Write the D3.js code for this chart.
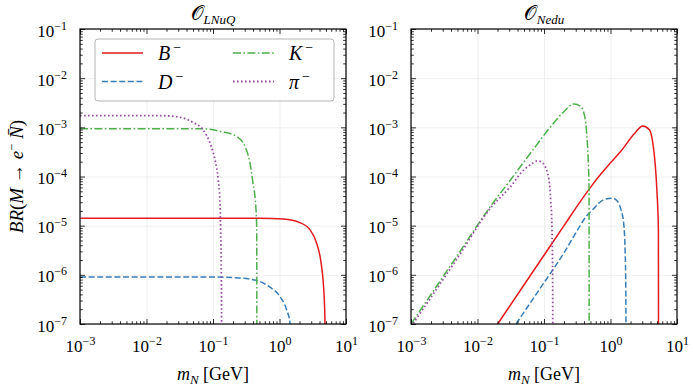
<!DOCTYPE html>
<html>
<head>
<meta charset="utf-8">
<script src="https://cdn.jsdelivr.net/npm/d3@7"></script>
<style>
body { margin: 0; background: #fff; }
</style>
</head>
<body>
<div id="plot"></div>
<script>
// tick values and labels
var xTicks = [1e-3, 1e-2, 1e-1, 1e0, 1e1];
var xTickExp = ["\u22123", "\u22122", "\u22121", "0", "1"];
var yTicks = [1e-7, 1e-6, 1e-5, 1e-4, 1e-3, 1e-2, 1e-1];
var yTickExp = ["\u22127", "\u22126", "\u22125", "\u22124", "\u22123", "\u22122", "\u22121"];

var mesons = ["B", "D", "K", "\u03c0"];

// O_LNuQ panel, [m_N (GeV), BR]
var lnuqB = [[1e-3,1.42e-5],[0.1,1.42e-5],[0.5,1.41e-5],[1.14,1.36e-5],[2.03,1.15e-5],[2.88,8.2e-6],
             [3.62,4.4e-6],[4.16,2.0e-6],[4.56,6.8e-7],[4.72,3.1e-7],[4.83,1e-7],[4.87,1e-9]];
var lnuqD = [[1e-3,9e-7],[0.1,9e-7],[0.2,8.8e-7],[0.36,8.2e-7],[0.51,7.3e-7],[0.72,5.6e-7],[1.02,3.6e-7],
             [1.28,1.95e-7],[1.44,1.05e-7],[1.55,3e-8]];
var lnuqK = [[1e-3,9.4e-4],[0.07,9.4e-4],[0.127,8.3e-4],[0.227,6.5e-4],[0.303,4.1e-4],[0.36,1.86e-4],
             [0.40,7.2e-5],[0.44,2.45e-5],[0.454,9.5e-6],[0.458,1e-9]];
var lnuqPi = [[1e-3,1.73e-3],[0.016,1.73e-3],[0.032,1.6e-3],[0.051,1.24e-3],[0.071,8.9e-4],[0.090,4.8e-4],
              [0.107,2.2e-4],[0.120,8.5e-5],[0.127,3.3e-5],[0.130,9.5e-6],[0.134,5e-7],[0.1355,1e-9]];

// O_Nedu panel
var neduB = [[0.0201,1e-7],[0.1,2.5e-6],[0.2,1.0e-5],[0.357,3.2e-5],[0.5,6.0e-5],[0.716,1.12e-4],
             [1.0,1.9e-4],[1.44,3.3e-4],[2.28,7.4e-4],[3.05,1.07e-3],[3.85,8.9e-4],[4.33,4.8e-4],[4.69,1.86e-4],
             [5.01,4.6e-5],[5.25,8.3e-6],[5.3,1e-9]];
var neduD = [[0.038,1e-7],[0.06,2.5e-7],[0.1,6.9e-7],[0.2,2.8e-6],[0.357,1.05e-5],[0.424,1.5e-5],[0.537,2.1e-5],
             [0.676,2.9e-5],[0.853,3.5e-5],[1.08,3.6e-5],[1.28,3.1e-5],[1.44,2.1e-5],[1.58,1.1e-5],
             [1.66,3e-6],[1.70,5e-7],[1.72,1e-9]];
var neduK = [[1e-3,1e-7],[0.002,4e-7],[0.005,2.5e-6],[0.0156,2.45e-5],[0.0313,8.5e-5],[0.0628,3.0e-4],
             [0.126,1.03e-3],[0.2,2.1e-3],[0.283,3.0e-3],[0.357,2.64e-3],[0.40,1.9e-3],[0.425,1.2e-3],
             [0.44,7e-4],[0.46,2.5e-4],[0.476,5.4e-5],[0.478,1e-9]];
var neduPi = [[1e-3,0.88e-7],[0.005,2.2e-6],[0.0156,2.26e-5],[0.0313,6.2e-5],[0.0497,1.36e-4],[0.065,1.8e-4],
              [0.079,2.07e-4],[0.09,2.0e-4],[0.1,1.74e-4],[0.119,8.5e-5],[0.126,3.3e-5],[0.132,8e-6],
              [0.135,1e-6],[0.136,1e-9]];

var colors = ["#e41a1c", "#377eb8", "#4daf4a", "#984ea3"];
var dashes = [null, "6,2.6", "8,2.4,1.6,2.4", "1.6,2.4"];
var serif = "Liberation Serif";

var W = 693, H = 390;
var plotTop = 29, plotBottom = 324, pw = 266;

// every span gets its own font settings
function span(t, str, size, italic) {
  var s = t.append("tspan").attr("font-family", serif).attr("font-size", size).text(str);
  if (italic) s.attr("font-style", "italic");
  return s;
}

var svg = d3.select("#plot").append("svg").attr("width", W).attr("height", H)
  .attr("font-family", serif);

svg.append("clipPath").attr("id", "clip")
   .append("rect").attr("x", 0).attr("y", 0).attr("width", pw).attr("height", plotBottom - plotTop);

var panels = [
  {left: 80, sub: "LNuQ", series: [lnuqB, lnuqD, lnuqK, lnuqPi], legend: true},
  {left: 411, sub: "Nedu", series: [neduB, neduD, neduK, neduPi], legend: false}
];

// minor ticks 2..9 in each decade
function minors(lo, hi) {
  var out = [];
  for (var e = lo; e < hi; e++)
    for (var k = 2; k <= 9; k++) out.push(k * Math.pow(10, e));
  return out;
}
var xMinor = minors(-3, 1);
var yMinor = minors(-7, -1);

// drop the axis' own empty labels and its sans-serif default
function bare(a) {
  a.select(".domain").remove();
  a.selectAll(".tick text").remove();
  a.attr("font-family", serif);
}

panels.forEach(function(p) {
  var h = plotBottom - plotTop;
  var x = d3.scaleLog().domain([1e-3, 10]).range([0, pw]);
  var y = d3.scaleLog().domain([1e-7, 1e-1]).range([h, 0]);
  var g = svg.append("g").attr("transform", "translate(" + p.left + "," + plotTop + ")");

  // grid
  g.append("g").attr("transform", "translate(0," + h + ")")
   .call(d3.axisBottom(x).tickValues(xTicks).tickSize(-h).tickFormat(""))
   .call(bare)
   .selectAll("line").attr("stroke", "#ebebeb").attr("stroke-width", 0.8);
  g.append("g")
   .call(d3.axisLeft(y).tickValues(yTicks).tickSize(-pw).tickFormat(""))
   .call(bare)
   .selectAll("line").attr("stroke", "#ebebeb").attr("stroke-width", 0.8);

  // curves
  var line = d3.line().x(d => x(d[0])).y(d => y(d[1])).curve(d3.curveMonotoneX);
  var cg = g.append("g").attr("clip-path", "url(#clip)");
  p.series.forEach(function(s, i) {
    cg.append("path").datum(s)
      .attr("d", line)
      .attr("fill", "none")
      .attr("stroke", colors[i])
      .attr("stroke-width", i == 3 ? 1.8 : 1.5)
      .attr("stroke-dasharray", dashes[i]);
  });

  // ticks, all four sides, pointing in
  function tickAxes(axisFn, scale, vals, size, tr) {
    var a = g.append("g");
    if (tr) a.attr("transform", tr);
    a.call(axisFn(scale).tickValues(vals).tickSize(-size).tickFormat(""))
     .call(bare)
     .selectAll("line").attr("stroke", "#000").attr("stroke-width", 0.8);
  }
  [[xTicks, 5], [xMinor, 2.8]].forEach(function(t) {
    tickAxes(d3.axisBottom, x, t[0], t[1], "translate(0," + h + ")");
    tickAxes(d3.axisTop, x, t[0], t[1], null);
  });
  [[yTicks, 5], [yMinor, 2.8]].forEach(function(t) {
    tickAxes(d3.axisLeft, y, t[0], t[1], null);
    tickAxes(d3.axisRight, y, t[0], t[1], "translate(" + pw + ",0)");
  });

  // tick labels
  var xl = g.append("g").attr("transform", "translate(0," + h + ")")
    .call(d3.axisBottom(x).tickValues(xTicks).tickSize(0).tickPadding(16));
  xl.select(".domain").remove();
  xl.attr("font-family", serif).attr("font-size", 17);
  xl.selectAll(".tick text")
    .attr("fill", "#000").attr("font-family", serif).attr("font-size", 17)
    .text(null)
    .each(function(d, i) {
      var t = d3.select(this);
      span(t, "10", 17);
      span(t, xTickExp[i], 12).attr("dy", -7);
    });
  var yl = g.append("g")
    .call(d3.axisLeft(y).tickValues(yTicks).tickSize(0).tickPadding(13));
  yl.select(".domain").remove();
  yl.attr("font-family", serif).attr("font-size", 17);
  yl.selectAll(".tick text")
    .attr("fill", "#000").attr("font-family", serif).attr("font-size", 17)
    .attr("dy", 7)
    .text(null)
    .each(function(d, i) {
      var t = d3.select(this);
      span(t, "10", 17);
      span(t, yTickExp[i], 12).attr("dy", -7);
    });

  // frame
  g.append("rect").attr("width", pw).attr("height", h)
   .attr("fill", "none").attr("stroke", "#000").attr("stroke-width", 1.2);

  // title
  var tt = g.append("text").attr("x", pw / 2).attr("y", -9).attr("text-anchor", "middle")
    .attr("font-family", serif).attr("font-size", 20);
  span(tt, "\ud835\udcaa", 20);
  span(tt, p.sub, 13, true).attr("dy", 4);

  // x label
  var xt = g.append("text").attr("x", pw / 2).attr("y", h + 56).attr("text-anchor", "middle")
    .attr("font-family", serif).attr("font-size", 18);
  span(xt, "m", 18, true);
  span(xt, "N", 13, true).attr("dy", 4);
  span(xt, " [GeV]", 18).attr("dy", -4);

  if (p.legend) {
    var lg = g.append("g").attr("transform", "translate(15,10)");
    lg.append("rect").attr("width", 239).attr("height", 62).attr("rx", 3)
      .attr("fill", "#fff").attr("fill-opacity", 0.85)
      .attr("stroke", "#b5b5b5").attr("stroke-width", 1);
    mesons.forEach(function(m, i) {
      var col = Math.floor(i / 2), row = i % 2;
      var ex = 7 + col * 131, ey = 14 + row * 28.5;
      lg.append("line").attr("x1", ex).attr("x2", ex + 41).attr("y1", ey).attr("y2", ey)
        .attr("stroke", colors[i]).attr("stroke-width", i == 3 ? 1.8 : 1.5)
        .attr("stroke-dasharray", dashes[i]);
      var lt = lg.append("text").attr("x", ex + 56).attr("y", ey + 7)
        .attr("font-family", serif).attr("font-size", 20);
      span(lt, m, 20, true);
      span(lt, "\u2212", 14).attr("dx", 3).attr("dy", -8);
    });
  }
});

// y label
var yt = svg.append("text").attr("transform", "translate(23," + ((plotTop + plotBottom) / 2) + ") rotate(-90)")
  .attr("text-anchor", "middle").attr("font-family", serif).attr("font-size", 19);
span(yt, "BR", 19, true);
span(yt, "(", 19);
span(yt, "M", 19, true);
span(yt, " \u2192 ", 19);
span(yt, "e", 19, true);
span(yt, "\u2212", 13).attr("dy", -7);
span(yt, " N\u0304", 19, true).attr("dy", 7);
span(yt, ")", 19);
</script>
</body>
</html>
